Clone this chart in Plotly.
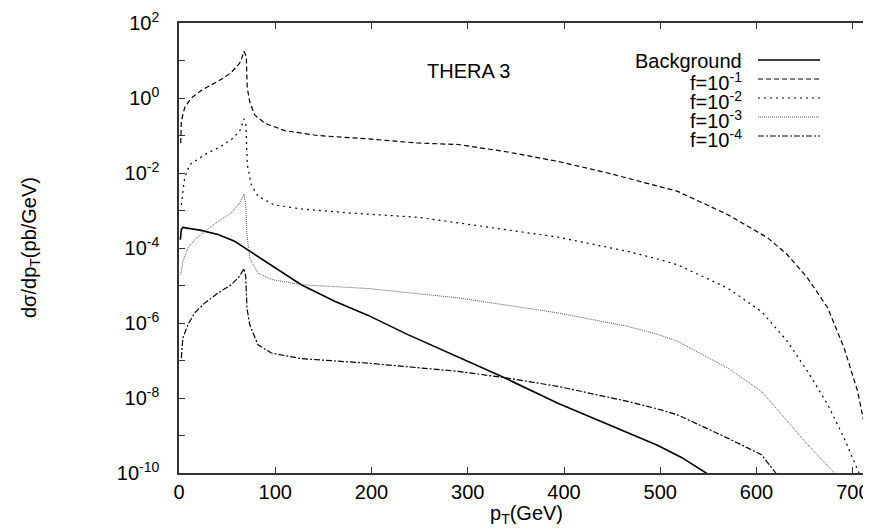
import plotly.graph_objects as go

# ---------------- data ----------------
bg_pt = [1.4, 2.4, 4, 9.3, 23, 40.5, 57.8, 75, 92.4, 127, 161.7, 196, 237.8, 290,
         334.7, 393.6, 445.5, 497, 522, 549]
bg_val = [1.66e-4, 3.09e-4, 3.55e-4, 3.39e-4, 2.95e-4, 2.29e-4, 1.51e-4, 7.76e-5, 3.98e-5,
          1.05e-5, 3.80e-6, 1.62e-6, 4.90e-7, 1.26e-7, 3.80e-8, 7.24e-9, 1.95e-9, 5.50e-10,
          2.6e-10, 9.5e-11]

f1_pt = [1.8, 2.4, 5.9, 12.8, 23, 33.6, 44, 54.3, 63, 65.4, 67.5, 69.9, 70.9, 73.4, 78.6,
         89, 109.7, 144, 196, 248, 290, 341.6, 393.6, 445.5, 497, 518, 570, 611.6, 632,
         653, 674, 691, 705, 712, 717, 719]
f1_val = [6.31e-2, 2.40e-1, 5.62e-1, 1.0, 1.58, 2.19, 3.16, 4.79, 8.51, 12.0, 17.6, 12.9,
          1.86, 0.813, 0.355, 0.214, 0.135, 0.100, 0.0813, 0.0631, 0.0575, 0.0363, 0.0204,
          0.0100, 4.47e-3, 3.24e-3, 7.76e-4, 1.86e-4, 6.61e-5, 1.58e-5, 2.51e-6, 2.14e-7,
          1.51e-8, 1.95e-9, 1.86e-10, 6.3e-11]

f2_pt = [2.4, 5.9, 11, 16.3, 26.7, 40.5, 54.3, 63, 67.5, 69.5, 71, 75, 82, 99, 127, 179,
         248, 290, 393.6, 466, 497, 518, 570, 605, 632, 653, 674, 691, 707, 708]
f2_val = [1.41e-3, 7.41e-3, 1.66e-2, 2.04e-2, 3.09e-2, 4.68e-2, 7.76e-2, 0.129, 0.275, 0.191,
          0.0166, 4.90e-3, 2.40e-3, 1.41e-3, 1.10e-3, 8.51e-4, 6.61e-4, 4.68e-4, 1.95e-4,
          8.13e-5, 5.13e-5, 3.55e-5, 8.51e-6, 2.04e-6, 3.24e-7, 5.13e-8, 6.61e-9, 8.51e-10,
          1.0e-10, 8.0e-11]

f3_pt = [1.7, 4, 9.3, 16.3, 26.7, 40.5, 54.3, 63, 67.5, 69.3, 70.6, 73.4, 82, 96, 127, 196,
         290, 393.6, 466, 497, 518, 570, 605, 632, 653, 681, 682]
f3_val = [1.95e-5, 4.37e-5, 1.0e-4, 1.66e-4, 2.75e-4, 5.13e-4, 8.51e-4, 1.58e-3, 2.75e-3,
          1.41e-3, 2.24e-4, 5.37e-5, 2.14e-5, 1.45e-5, 1.05e-5, 8.32e-6, 4.68e-6, 1.86e-6,
          8.13e-7, 5.01e-7, 3.24e-7, 6.31e-8, 1.51e-8, 2.40e-9, 5.75e-10, 1.0e-10, 8.0e-11]

f4_pt = [2.4, 4, 9.3, 16.3, 26.7, 40.5, 54.3, 63, 67.5, 69.3, 70.6, 73.4, 82, 96, 127, 196,
         290, 341.6, 393.6, 466, 497, 518, 570, 605, 620, 621]
f4_val = [1.17e-7, 3.98e-7, 9.12e-7, 1.86e-6, 3.39e-6, 6.31e-6, 1.05e-5, 1.78e-5, 2.82e-5,
          1.78e-5, 2.51e-6, 9.12e-7, 2.63e-7, 1.58e-7, 1.12e-7, 8.51e-8, 5.13e-8, 3.39e-8,
          2.04e-8, 8.13e-9, 5.13e-9, 3.55e-9, 8.51e-10, 3.09e-10, 1.0e-10, 8.0e-11]

series_names = ["Background", "f=10<sup>-1</sup>", "f=10<sup>-2</sup>",
                "f=10<sup>-3</sup>", "f=10<sup>-4</sup>"]
x_ticks = [0, 100, 200, 300, 400, 500, 600, 700]
y_tick_vals = [1e2, 1e1, 1e0, 1e-1, 1e-2, 1e-3, 1e-4, 1e-5, 1e-6, 1e-7, 1e-8, 1e-9, 1e-10]
y_tick_text = ["10<sup>2</sup>", "", "10<sup>0</sup>", "", "10<sup>-2</sup>", "",
               "10<sup>-4</sup>", "", "10<sup>-6</sup>", "", "10<sup>-8</sup>", "",
               "10<sup>-10</sup>"]

# ---------------- styles ----------------
styles = [
    dict(color="black", width=1.6, dash="solid"),
    dict(color="black", width=1.2, dash="5px,3px"),
    dict(color="black", width=1.2, dash="2px,4px"),
    dict(color="#555555", width=1.0, dash="1px,1px"),
    dict(color="black", width=1.2, dash="6px,2px,2px,2px"),
]

W, H = 871, 529
ML, MR, MT, MB = 171, 5, 15, 64
PW, PH = W - ML - MR, H - MT - MB
FONT = "Liberation Sans, Arial, Helvetica, sans-serif"


def px_x(px):
    return (px - ML) / PW


def px_y(py):
    return (H - MB - py) / PH


fig = go.Figure()
for xs, ys, st, nm in zip([bg_pt, f1_pt, f2_pt, f3_pt, f4_pt],
                          [bg_val, f1_val, f2_val, f3_val, f4_val], styles, series_names):
    fig.add_trace(go.Scatter(x=xs, y=ys, mode="lines", line=st, name=nm,
                             showlegend=False, cliponaxis=True))

# manual legend (gnuplot style: right aligned text, sample line to the right)
legend_text_y = [53, 73, 92, 111, 130]
legend_line_y = [52, 71, 90, 109, 128]
annotations = []
shapes = []
for nm, ty, ly, st in zip(series_names, legend_text_y, legend_line_y, styles):
    annotations.append(dict(x=px_x(735), y=px_y(ty), xref="paper", yref="paper",
                            text=nm, showarrow=False, xanchor="right", yanchor="middle",
                            borderpad=0,
                            font=dict(family=FONT, size=20, color="black")))
    shapes.append(dict(type="line", xref="paper", yref="paper",
                       x0=px_x(750), x1=px_x(812), y0=px_y(ly), y1=px_y(ly),
                       line=st))

annotations.append(dict(x=px_x(460), y=px_y(63), xref="paper", yref="paper",
                        text="THERA 3", showarrow=False, xanchor="center", yanchor="middle",
                        font=dict(family=FONT, size=20, color="black")))
annotations.append(dict(x=px_x(22), y=0.5, xref="paper", yref="paper",
                        text="dσ/dp<sub>T</sub>(pb/GeV)", showarrow=False, textangle=-90,
                        xanchor="center", yanchor="middle",
                        font=dict(family=FONT, size=20, color="black")))
annotations.append(dict(x=0.5, y=px_y(507), xref="paper", yref="paper",
                        text="p<sub>T</sub>(GeV)", showarrow=False, borderpad=0,
                        xanchor="center", yanchor="middle",
                        font=dict(family=FONT, size=20, color="black")))

axis_common = dict(showline=True, linecolor="#333333", linewidth=1.5, mirror="ticks",
                   ticks="inside", ticklen=6, tickwidth=1.2, tickcolor="#333333",
                   showgrid=False, zeroline=False,
                   tickfont=dict(family=FONT, size=20, color="black"))

fig.update_layout(
    width=W, height=H,
    margin=dict(l=ML, r=MR, t=MT, b=MB, autoexpand=False),
    paper_bgcolor="white", plot_bgcolor="white",
    xaxis=dict(range=[0, 722], tickvals=x_ticks, ticktext=[str(v) for v in x_ticks],
               ticklabelstandoff=0, **axis_common),
    yaxis=dict(type="log", range=[-10, 2], tickvals=y_tick_vals, ticktext=y_tick_text,
               ticklabelstandoff=14, **axis_common),
    annotations=annotations, shapes=shapes,
    showlegend=False,
)

fig.write_html("out.html")
